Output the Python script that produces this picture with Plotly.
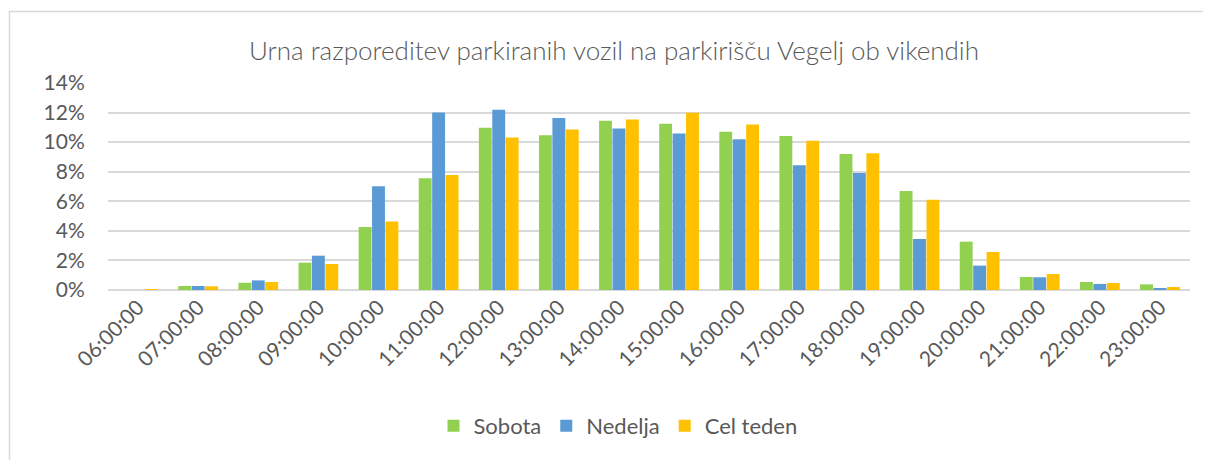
import plotly.graph_objects as go

hours = ["06:00:00", "07:00:00", "08:00:00", "09:00:00", "10:00:00", "11:00:00",
         "12:00:00", "13:00:00", "14:00:00", "15:00:00", "16:00:00", "17:00:00",
         "18:00:00", "19:00:00", "20:00:00", "21:00:00", "22:00:00", "23:00:00"]
sobota = [0.0, 0.27, 0.49, 1.85, 4.26, 7.56, 10.97, 10.47, 11.44, 11.24, 10.70, 10.41,
          9.19, 6.70, 3.27, 0.88, 0.54, 0.38]
nedelja = [0.0, 0.27, 0.65, 2.32, 7.01, 12.00, 12.19, 11.64, 10.92, 10.58, 10.20, 8.44,
           7.92, 3.45, 1.65, 0.86, 0.41, 0.11]
cel_teden = [0.05, 0.25, 0.54, 1.76, 4.63, 7.78, 10.31, 10.85, 11.53, 11.98, 11.19, 10.09,
             9.25, 6.11, 2.57, 1.08, 0.47, 0.20]

series = [("Sobota", sobota, "#92D050"), ("Nedelja", nedelja, "#5B9BD5"),
          ("Cel teden", cel_teden, "#FFC000")]

fig = go.Figure()
for name, vals, col in series:
    fig.add_trace(go.Bar(x=hours, y=[v / 100 for v in vals], name=name,
                         marker=dict(color=col, line=dict(width=0))))

grey = "#595959"
# page body has an 8px margin; figure coordinates are offset by it
W, H = 1203, 452
L, T = 100, 75
R = W - 1182
B = H - 282
pw, ph = W - L - R, H - T - B

fig.update_layout(
    width=W, height=H,
    margin=dict(l=L, r=R, t=T, b=B),
    paper_bgcolor="white", plot_bgcolor="white",
    barmode="group", bargap=0.33, bargroupgap=0.04,
    font=dict(family="Lato", color=grey, size=16),
    title=dict(text="Urna razporeditev parkiranih vozil na parkirišču Vegelj ob vikendih",
               x=606 / W, xanchor="center", y=1 - 43 / H, yanchor="middle",
               font=dict(family="Lato", size=26, color=grey, weight=300)),
    showlegend=True,
    legend=dict(orientation="h", x=610 / W, xref="container", xanchor="center",
                y=1 - 418 / H, yref="container",
                yanchor="middle", font=dict(size=22, color=grey, family="Lato"),
                itemwidth=30, traceorder="normal"),
    xaxis=dict(tickangle=-45, showgrid=False, showline=False, ticks="",
               tickfont=dict(size=21, color=grey, family="Lato")),
    yaxis=dict(range=[0, 0.14], dtick=0.02, tickformat=".0%", showgrid=True,
               gridcolor="#d9d9d9", gridwidth=1.5, zeroline=True, zerolinecolor="#d9d9d9",
               zerolinewidth=1.5, showline=False, ticks="outside", ticklen=18,
               tickcolor="rgba(0,0,0,0)",
               tickfont=dict(size=21, color=grey, family="Lato")),
    shapes=[dict(type="rect", xref="paper", yref="paper",
                 x0=(1.5 - L) / pw, x1=(W + 20 - L) / pw,
                 y0=-(H + 20 - (H - B)) / ph, y1=((H - B) - 3.5) / ph,
                 line=dict(color="#d9d9d9", width=1.5), layer="below")],
)

fig.write_html("out.html")
